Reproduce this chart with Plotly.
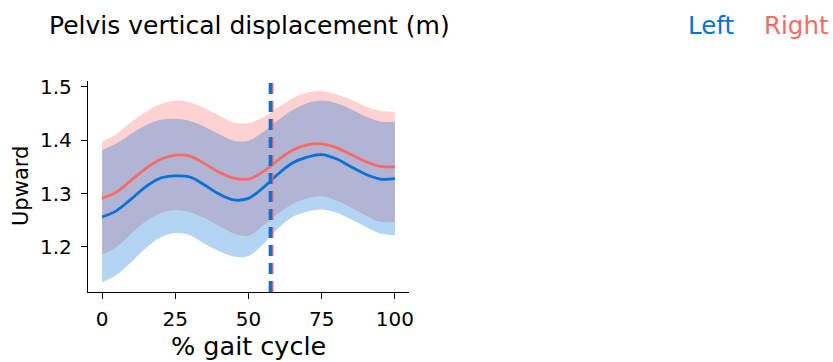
import plotly.graph_objects as go

# ---- data ----
gait_pct = [0, 5, 10, 15, 20, 25, 30, 35, 40, 45, 50, 55, 60, 65, 70, 75, 80, 85, 90, 95, 100]

left_mean = [1.256, 1.268, 1.290, 1.313, 1.329, 1.333, 1.331, 1.316, 1.299, 1.288, 1.291,
             1.311, 1.336, 1.357, 1.368, 1.373, 1.365, 1.350, 1.336, 1.327, 1.328]
left_upper = [1.381, 1.394, 1.412, 1.428, 1.438, 1.440, 1.436, 1.425, 1.411, 1.399, 1.399,
              1.415, 1.437, 1.456, 1.469, 1.474, 1.469, 1.458, 1.444, 1.435, 1.434]
left_lower = [1.134, 1.148, 1.172, 1.198, 1.218, 1.226, 1.222, 1.206, 1.192, 1.182, 1.183,
              1.205, 1.234, 1.256, 1.266, 1.270, 1.264, 1.252, 1.238, 1.225, 1.222]

right_mean = [1.291, 1.303, 1.325, 1.347, 1.364, 1.372, 1.370, 1.356, 1.340, 1.329, 1.327,
              1.341, 1.362, 1.381, 1.391, 1.393, 1.386, 1.373, 1.360, 1.351, 1.350]
right_upper = [1.397, 1.412, 1.434, 1.453, 1.467, 1.474, 1.471, 1.460, 1.446, 1.433, 1.432,
               1.443, 1.461, 1.478, 1.489, 1.492, 1.486, 1.476, 1.463, 1.455, 1.453]
right_lower = [1.186, 1.200, 1.225, 1.248, 1.263, 1.269, 1.265, 1.254, 1.239, 1.225, 1.221,
               1.240, 1.262, 1.280, 1.291, 1.295, 1.287, 1.274, 1.259, 1.247, 1.247]

toe_off_left = 57.5
toe_off_right = 57.9

x_ticks = [0, 25, 50, 75, 100]
y_ticks = [1.2, 1.3, 1.4, 1.5]

BLUE = "rgb(4,114,216)"
RED = "rgb(250,106,100)"
BLUE_FILL = "rgba(4,114,216,0.3)"
RED_FILL = "rgba(250,106,100,0.3)"
FONT = "DejaVu Sans"

fig = go.Figure()

# bands (right first, then left on top)
for upper, lower, fill in [(right_upper, right_lower, RED_FILL), (left_upper, left_lower, BLUE_FILL)]:
    fig.add_trace(go.Scatter(x=gait_pct, y=upper, mode="lines", line=dict(width=0, shape="spline"),
                             hoverinfo="skip", showlegend=False))
    fig.add_trace(go.Scatter(x=gait_pct, y=lower, mode="lines", line=dict(width=0, shape="spline"),
                             fill="tonexty", fillcolor=fill, hoverinfo="skip", showlegend=False))

fig.add_trace(go.Scatter(x=gait_pct, y=right_mean, mode="lines", name="Right",
                         line=dict(color=RED, width=2.8, shape="spline"), showlegend=False))
fig.add_trace(go.Scatter(x=gait_pct, y=left_mean, mode="lines", name="Left",
                         line=dict(color=BLUE, width=2.8, shape="spline"), showlegend=False))

# toe-off dashed lines
for xv, col in [(toe_off_right, RED), (toe_off_left, BLUE)]:
    fig.add_shape(type="line", xref="x", yref="paper", x0=xv, x1=xv, y0=0, y1=1,
                  line=dict(color=col, width=3.6, dash="11px,7px"), layer="above")

axis_common = dict(showline=True, linecolor="black", linewidth=1.4, mirror=False,
                   ticks="outside", ticklen=6, tickwidth=1.3, tickcolor="black",
                   showgrid=False, zeroline=False,
                   tickfont=dict(family=FONT, size=20, color="black"))

fig.update_xaxes(range=[-4.8, 104.8], tickvals=x_ticks, ticktext=[str(v) for v in x_ticks],
                 ticklabelstandoff=3, **axis_common)
fig.update_yaxes(range=[1.1156, 1.5107], tickvals=y_ticks, ticktext=[f"{v:.1f}" for v in y_ticks],
                 ticklabelstandoff=5, **axis_common)

W, H = 833, 362
L, R, T, B = 88, 424, 81, 70
pw, ph = W - L - R, H - T - B

fig.update_layout(
    width=W, height=H,
    margin=dict(l=L, r=R, t=T, b=B),
    plot_bgcolor="white", paper_bgcolor="white",
    showlegend=False,
)


def px_to_paper(px, py):
    return (px - L) / pw, (H - B - py) / ph


tx, ty = px_to_paper(47, 36)
fig.add_annotation(text="Pelvis vertical displacement (m)", x=tx, y=ty, xref="paper", yref="paper",
                   xanchor="left", yanchor="bottom", showarrow=False, yshift=-6,
                   font=dict(family=FONT, size=25, color="black"))

lx, ly = px_to_paper(686, 36)
fig.add_annotation(text="Left", x=lx, y=ly, xref="paper", yref="paper", xanchor="left",
                   yanchor="bottom", showarrow=False, yshift=-6,
                   font=dict(family=FONT, size=24.5, color=BLUE))
rx, ry = px_to_paper(762, 36)
fig.add_annotation(text="Right", x=rx, y=ry, xref="paper", yref="paper", xanchor="left",
                   yanchor="bottom", showarrow=False, yshift=-6,
                   font=dict(family=FONT, size=24.5, color=RED))

xlx, xly = px_to_paper(249, 346)
fig.add_annotation(text="% gait cycle", x=xlx, y=xly, xref="paper", yref="paper",
                   xanchor="center", yanchor="middle", showarrow=False,
                   font=dict(family=FONT, size=25.5, color="black"))
ylx, yly = px_to_paper(21, 186)
fig.add_annotation(text="Upward", x=ylx, y=yly, xref="paper", yref="paper", textangle=-90,
                   xanchor="center", yanchor="middle", showarrow=False,
                   font=dict(family=FONT, size=21, color="black"))

fig.write_html("out.html", post_script="document.body.style.margin='0';",
               config={"displayModeBar": False})
